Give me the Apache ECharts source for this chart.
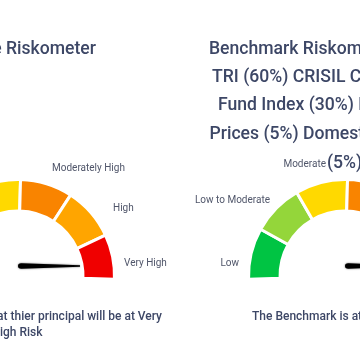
<!DOCTYPE html>
<html><head><meta charset="utf-8">
<script src="https://cdn.jsdelivr.net/npm/echarts@6/dist/echarts.min.js"></script>
<style>html,body{margin:0;padding:0;background:#fff;overflow:hidden}#c{width:360px;height:357px}</style>
</head><body><div id="c"></div>
<script>
// ---- data ----
const riskLevels = ['Low', 'Low to Moderate', 'Moderate', 'Moderately High', 'High', 'Very High'];
const segmentSpans = [31, 31, 31.5, 31.5, 32, 27];            // angular size of each band (deg)
const segmentColors = ['#00c443', '#94d63a', '#ffd900', '#f98400', '#ffa500', '#f00000'];
const schemeRisk = 6;      // needle on 0..6 scale
const benchmarkRisk = 6;
const schemeTitleLines = ['Scheme Riskometer'];
const benchmarkTitleLines = ['Benchmark Riskometer: NIFTY 500', 'TRI (60%) CRISIL Composite Bond', 'Fund Index (30%) Domestic Gold', 'Prices (5%) Domestic Silver Prices', '(5%)'];
const schemeNoteLines = ['Investors understand that thier principal will be at Very', 'High Risk'];
const benchmarkNoteLines = ['The Benchmark is at Very High Risk'];

// ---- styling / layout ----
const TITLE_COLOR = '#3d4766';
const LABEL_COLOR = '#50566a';
const gauges = [
  { c: [18, 276], needle: [18, 266], value: schemeRisk },
  { c: [345, 276], needle: [345, 266], value: benchmarkRisk }
];
const spanSum = segmentSpans.reduce((a, b) => a + b, 0);

function bandSeries(g) {
  return {
    type: 'pie', center: g.c, radius: [65, 96.5], startAngle: 182, clockwise: true,
    silent: true, animation: false, label: { show: false }, labelLine: { show: false },
    itemStyle: { borderColor: '#fff', borderWidth: 3 },
    data: riskLevels.map((n, i) => ({ name: n, value: segmentSpans[i], itemStyle: { color: segmentColors[i] } }))
      .concat([{ name: '', value: 360 - spanSum, itemStyle: { color: 'rgba(0,0,0,0)', borderWidth: 0 } }])
  };
}
function needleSeries(g) {
  return {
    type: 'gauge', center: g.needle, radius: 62, startAngle: 180, endAngle: 0, min: 0, max: riskLevels.length,
    animation: false, silent: true,
    axisLine: { show: false }, splitLine: { show: false }, axisTick: { show: false }, axisLabel: { show: false },
    progress: { show: false }, anchor: { show: false }, title: { show: false }, detail: { show: false },
    pointer: {
      icon: 'path://M3.5,0 L6.5,0 L10,90 A5,5 0 0 1 0,90 Z', length: 62, width: 5.5,
      itemStyle: { color: '#000', shadowBlur: 2, shadowColor: 'rgba(0,0,0,0.6)' }
    },
    data: [{ value: g.value }]
  };
}

function txt(text, x, y, align, size, weight, color) {
  return { type: 'text', x: x, y: y, silent: true,
    style: { text: text, fill: color, align: align, verticalAlign: 'middle',
      font: weight + ' ' + size + 'px Roboto, "Noto Sans", sans-serif' } };
}

const graphics = [];
// titles
graphics.push(txt(schemeTitleLines[0], 96, 50, 'right', 17.6, 500, TITLE_COLOR));
const bX = [209, 212, 218, 209.5, 327];
const bY = [50, 78, 106, 134.5, 163.5];
benchmarkTitleLines.forEach((l, i) => graphics.push(txt(l, bX[i], bY[i], 'left', 17.6, 500, TITLE_COLOR)));
// band labels
graphics.push(txt(riskLevels[3], 52, 168, 'left', 10, 400, LABEL_COLOR));
graphics.push(txt(riskLevels[4], 113, 208, 'left', 10, 400, LABEL_COLOR));
graphics.push(txt(riskLevels[5], 124, 263, 'left', 10, 400, LABEL_COLOR));
graphics.push(txt(riskLevels[0], 239, 263, 'right', 10, 400, LABEL_COLOR));
graphics.push(txt(riskLevels[1], 270, 200.5, 'right', 10, 400, LABEL_COLOR));
graphics.push(txt(riskLevels[2], 326, 164.5, 'right', 10, 400, LABEL_COLOR));
// notes
graphics.push(txt(schemeNoteLines[0], 162, 316.5, 'right', 12, 500, TITLE_COLOR));
graphics.push(txt(schemeNoteLines[1], 42.5, 333, 'right', 12, 500, TITLE_COLOR));
graphics.push(txt(benchmarkNoteLines[0], 252, 316.5, 'left', 12, 500, TITLE_COLOR));

const chart = echarts.init(document.getElementById('c'), null, { renderer: 'canvas' });
chart.setOption({
  animation: false,
  backgroundColor: '#fff',
  series: [bandSeries(gauges[0]), bandSeries(gauges[1]), needleSeries(gauges[0]), needleSeries(gauges[1])],
  graphic: graphics
});
</script></body></html>
